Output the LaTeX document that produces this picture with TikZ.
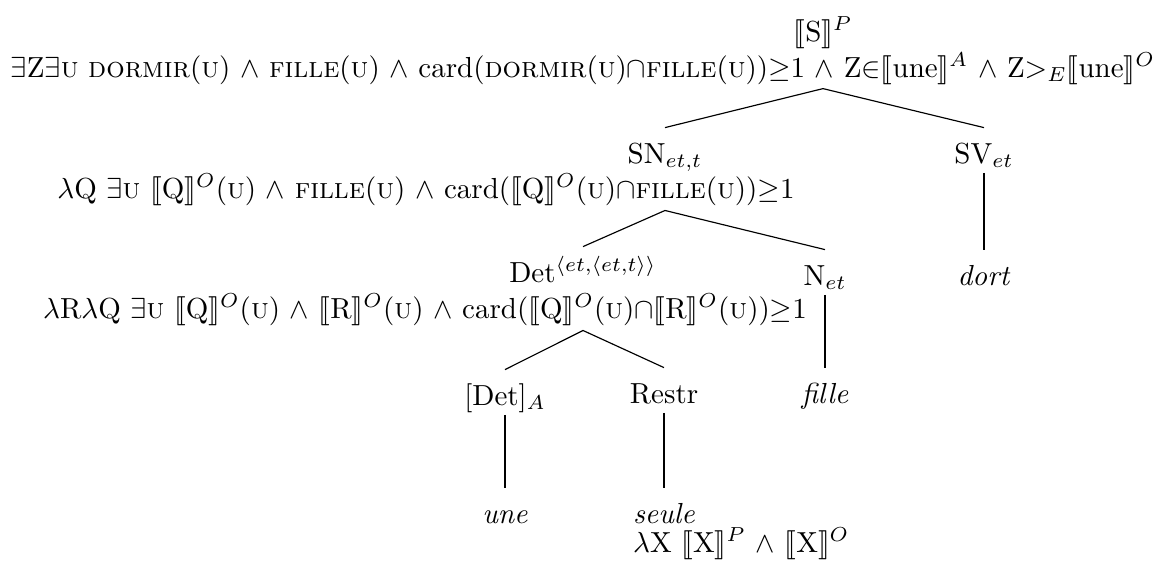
\documentclass[tikz,border=0pt]{standalone}
\usepackage{stmaryrd}
\begin{document}
\begin{tikzpicture}[x=0.3447pt,y=-0.3447pt,
    lbl/.style={inner sep=0pt,anchor=base,text height=12pt,text depth=3.2pt},
    form/.style={inner sep=0pt,anchor=base,text depth=4.1pt}]

        % 画布大小
        \useasboundingbox (0,0) rectangle (1164,569);

        % 根节点 S
        \node[lbl] (s) at (823,41) {$\llbracket$S$\rrbracket^P$};
        \node[form,text depth=3.8pt] (sf) at (583,77) {$\exists$Z$\exists$\textsc{u} \textsc{dormir}(\textsc{u}) $\wedge$ \textsc{fille}(\textsc{u}) $\wedge$ card(\textsc{dormir}(\textsc{u})$\cap$\textsc{fille}(\textsc{u}))$\geq$1 $\wedge$ Z$\in$$\llbracket$une$\rrbracket^A$ $\wedge$ Z$>_E$$\llbracket$une$\rrbracket^O$};

        % 第二层 SN, SV
        \node[lbl] (sn) at (665,163) {SN$_{et,t}$};
        \node[form] (snf) at (426,198) {$\lambda$Q $\exists$\textsc{u} $\llbracket$Q$\rrbracket^O$(\textsc{u}) $\wedge$ \textsc{fille}(\textsc{u}) $\wedge$ card($\llbracket$Q$\rrbracket^O$(\textsc{u})$\cap$\textsc{fille}(\textsc{u}))$\geq$1};
        \node[lbl] (sv) at (984,163) {SV$_{et}$};
        \node[lbl] (dort) at (984,285) {\textit{dort}};

        % 第三层 Det, N
        \node[lbl] (det) at (583,282) {Det$^{\langle et,\langle et,t\rangle\rangle}$};
        \node[form] (detf) at (425,318) {$\lambda$R$\lambda$Q $\exists$\textsc{u} $\llbracket$Q$\rrbracket^O$(\textsc{u}) $\wedge$ $\llbracket$R$\rrbracket^O$(\textsc{u}) $\wedge$ card($\llbracket$Q$\rrbracket^O$(\textsc{u})$\cap$$\llbracket$R$\rrbracket^O$(\textsc{u}))$\geq$1};
        \node[lbl] (n) at (825,285) {N$_{et}$};
        \node[lbl] (fille) at (825,403) {\textit{fille}};

        % 第四层 [Det], Restr
        \node[lbl] (deta) at (505,405) {[Det]$_A$};
        \node[lbl] (restr) at (664,403) {Restr};
        \node[lbl] (une) at (505,523) {\textit{une}};
        \node[lbl] (seule) at (664,523) {\textit{seule}};
        \node[form,anchor=base west,text height=6pt] (seulef) at ([yshift=-10pt]seule.base west) {$\lambda$X $\llbracket$X$\rrbracket^P$ $\wedge$ $\llbracket$X$\rrbracket^O$};

        % 分支
        \draw (s |- sf.south) -- (sn.north);
        \draw (s |- sf.south) -- (sv.north);
        \draw (sn |- snf.south) -- (det.north);
        \draw (sn |- snf.south) -- (n.north);
        \draw (det |- detf.south) -- (deta.north);
        \draw (det |- detf.south) -- (restr.north);

        % 竖线
        \foreach \a/\b in {sv/dort, n/fille, deta/une, restr/seule} {
            \draw (\a.south) -- (\b.north);
        }

    \end{tikzpicture}
\end{document}
